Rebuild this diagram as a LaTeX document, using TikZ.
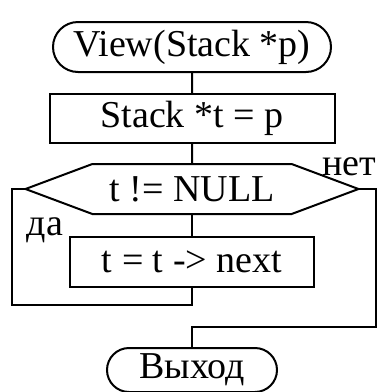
\documentclass[tikz,border=0pt]{standalone}
\usepackage{fontspec}
\setmainfont{Liberation Serif}
\usetikzlibrary{positioning,shapes.misc,shapes.symbols}

\begin{document}
\begin{tikzpicture}[auto,node distance=11pt,line width=1pt,
	font=\fontsize{19}{23}\selectfont]
	\tikzstyle{every node}=[inner sep=0pt,outer sep=0pt]
	\tikzstyle{term}=[draw,rounded rectangle,minimum height=25pt]
	\tikzstyle{op}=[draw,rectangle,minimum height=24.5pt]
	\tikzstyle{cond}=[draw,signal,signal to=west and east,signal pointer angle=41,minimum width=166.5pt,minimum height=25pt]
	\useasboundingbox (0,0) rectangle (190pt,-196pt);

	\node[term,minimum width=139pt] (s) at (96pt,-23.5pt) {View(Stack *p)};
	\node[op,minimum width=142.5pt] (0) [below=11pt of s] {Stack *t = p};
	\node[cond] (1) [below=10.5pt of 0] {t != NULL};
	\node[op,minimum width=122pt,minimum height=25pt] (2) [below=11.5pt of 1] {t = t -> next};
	\node[term,minimum width=85pt,minimum height=22pt] (r) [below=30.5pt of 2] {Выход};
	\node[anchor=base] (no) at ([xshift=-4.5pt,yshift=7pt]1.east) {нет};
	\node[anchor=base east] (yes) at ([xshift=-3.5pt,yshift=1pt]2.north west) {да};

	\coordinate (lb) at (6pt,-152.5pt);
	\coordinate (rb) at (188pt,-163.5pt);

	\path
	(s) edge (0)
	(0) edge (1)
	(1) edge (2)
	;
	\draw (2.south) -- (2.south |- lb) -- (lb) |- (1.west);
	\draw (1.east) -| (rb) -| (r.north);
\end{tikzpicture}
\end{document}
